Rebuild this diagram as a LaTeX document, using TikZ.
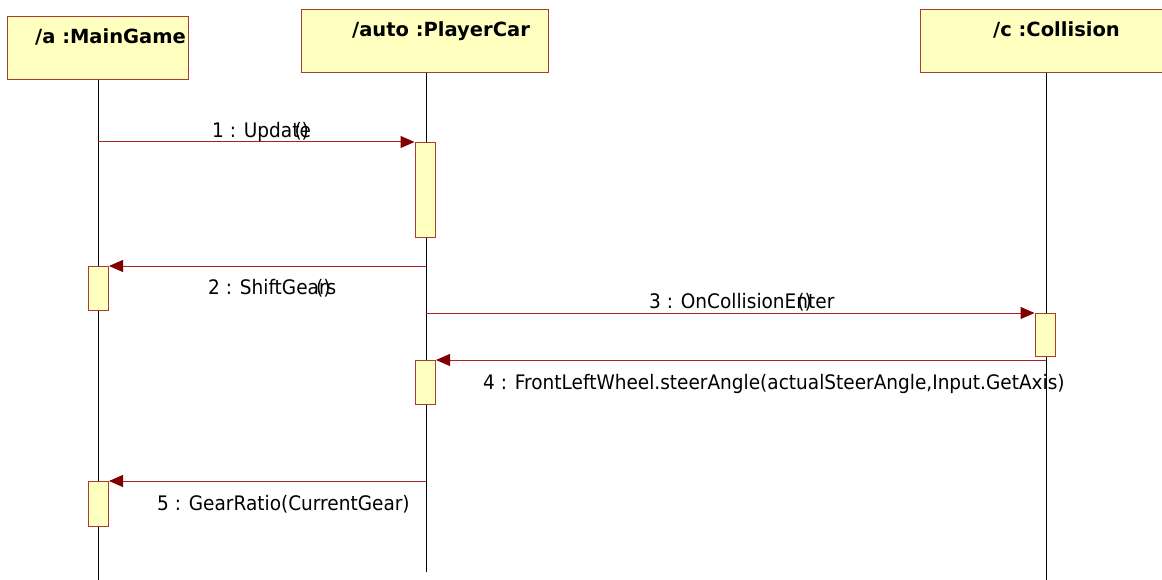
\documentclass[tikz,border=0pt]{standalone}
\usepackage{fontspec}
\setmainfont{DejaVu Sans}
\usetikzlibrary{arrows.meta}
\definecolor{boxfill}{RGB}{255,255,192}
\definecolor{boxline}{RGB}{170,60,50}
\definecolor{msgline}{RGB}{165,35,35}
\definecolor{tipfill}{RGB}{128,0,0}
\newcommand{\msgfont}{\fontsize{20}{24}\selectfont}
\newcommand{\msgtext}[1]{\scalebox{0.925}[1]{\msgfont #1}}
\tikzset{
  headbox/.style={draw=boxline, fill=boxfill, line width=1pt, inner sep=0pt, anchor=north west},
  actbox/.style={draw=boxline, fill=boxfill, line width=1pt, inner sep=0pt, anchor=north west, minimum width=20.5pt},
  title/.style={anchor=base west, inner sep=0pt, font=\bfseries\fontsize{19.5}{22}\selectfont},
  lifeline/.style={draw=black, line width=1pt},
  msg/.style={draw=msgline, line width=1pt, -{Triangle[length=14pt,width=12pt,fill=tipfill,color=tipfill]}},
  msglabel/.style={anchor=base west, inner sep=0pt}
}
\begin{document}
\begin{tikzpicture}[x=1pt, y=-1pt]
\useasboundingbox (0,0) rectangle (1162,580);

% object heads
\node[headbox, minimum width=181pt, minimum height=63pt] (mgHead) at (7,16) {};
\node[headbox, minimum width=247pt, minimum height=63pt] (pcHead) at (301,9) {};
\node[headbox, minimum width=252pt, minimum height=63pt] (ccHead) at (920,9) {};
\node[title] (mgTitle) at (35,44) {/a :MainGame};
\node[title] (pcTitle) at (352,37) {/auto :PlayerCar};
\node[title] (ccTitle) at (993,37) {/c :Collision};

% lifeline ends
\coordinate (mgEnd) at (98,580);
\coordinate (pcEnd) at (426,572);
\coordinate (ccEnd) at (1046,580);

% lifelines
\draw[lifeline] (mgHead.south -| mgEnd) -- (mgEnd);
\draw[lifeline] (pcHead.south -| pcEnd) -- (pcEnd);
\draw[lifeline] (ccHead.south -| ccEnd) -- (ccEnd);

% activation bars
\node[actbox, minimum height=95pt] (act1) at (414.5,142) {};
\node[actbox, minimum height=44pt] (act2) at (87.5,266) {};
\node[actbox, minimum height=43pt] (act3) at (1034.5,313) {};
\node[actbox, minimum height=44pt] (act4) at (414.5,360) {};
\node[actbox, minimum height=45pt] (act5) at (87.5,481) {};

% messages
\draw[msg] (mgEnd |- act1.north west) -- (act1.north west);
\draw[msg] (pcEnd |- act2.north east) -- (act2.north east);
\draw[msg] (pcEnd |- act3.north west) -- (act3.north west);
\draw[msg] (ccEnd |- act4.north east) -- (act4.north east);
\draw[msg] (pcEnd |- act5.north east) -- (act5.north east);

% message labels
\node[msglabel] (lbl1) at (212,138) {\msgtext{1 : Upda\rlap{te}\hspace{0.12em}()}};
\node[msglabel] (lbl2) at (208,294) {\msgtext{2 : ShiftGe\rlap{ars}\hspace{0.45em}()}};
\node[msglabel] (lbl3) at (649,308) {\msgtext{3 : OnCollisionE\rlap{nter}\hspace{0.05em}()}};
\node[msglabel] (lbl4) at (483,389) {\msgtext{4 : FrontLeftWheel.steerAngle(actualSteerAngle,Input.GetAxis)}};
\node[msglabel] (lbl5) at (157,510) {\msgtext{5 : GearRatio(CurrentGear)}};
\end{tikzpicture}
\end{document}
